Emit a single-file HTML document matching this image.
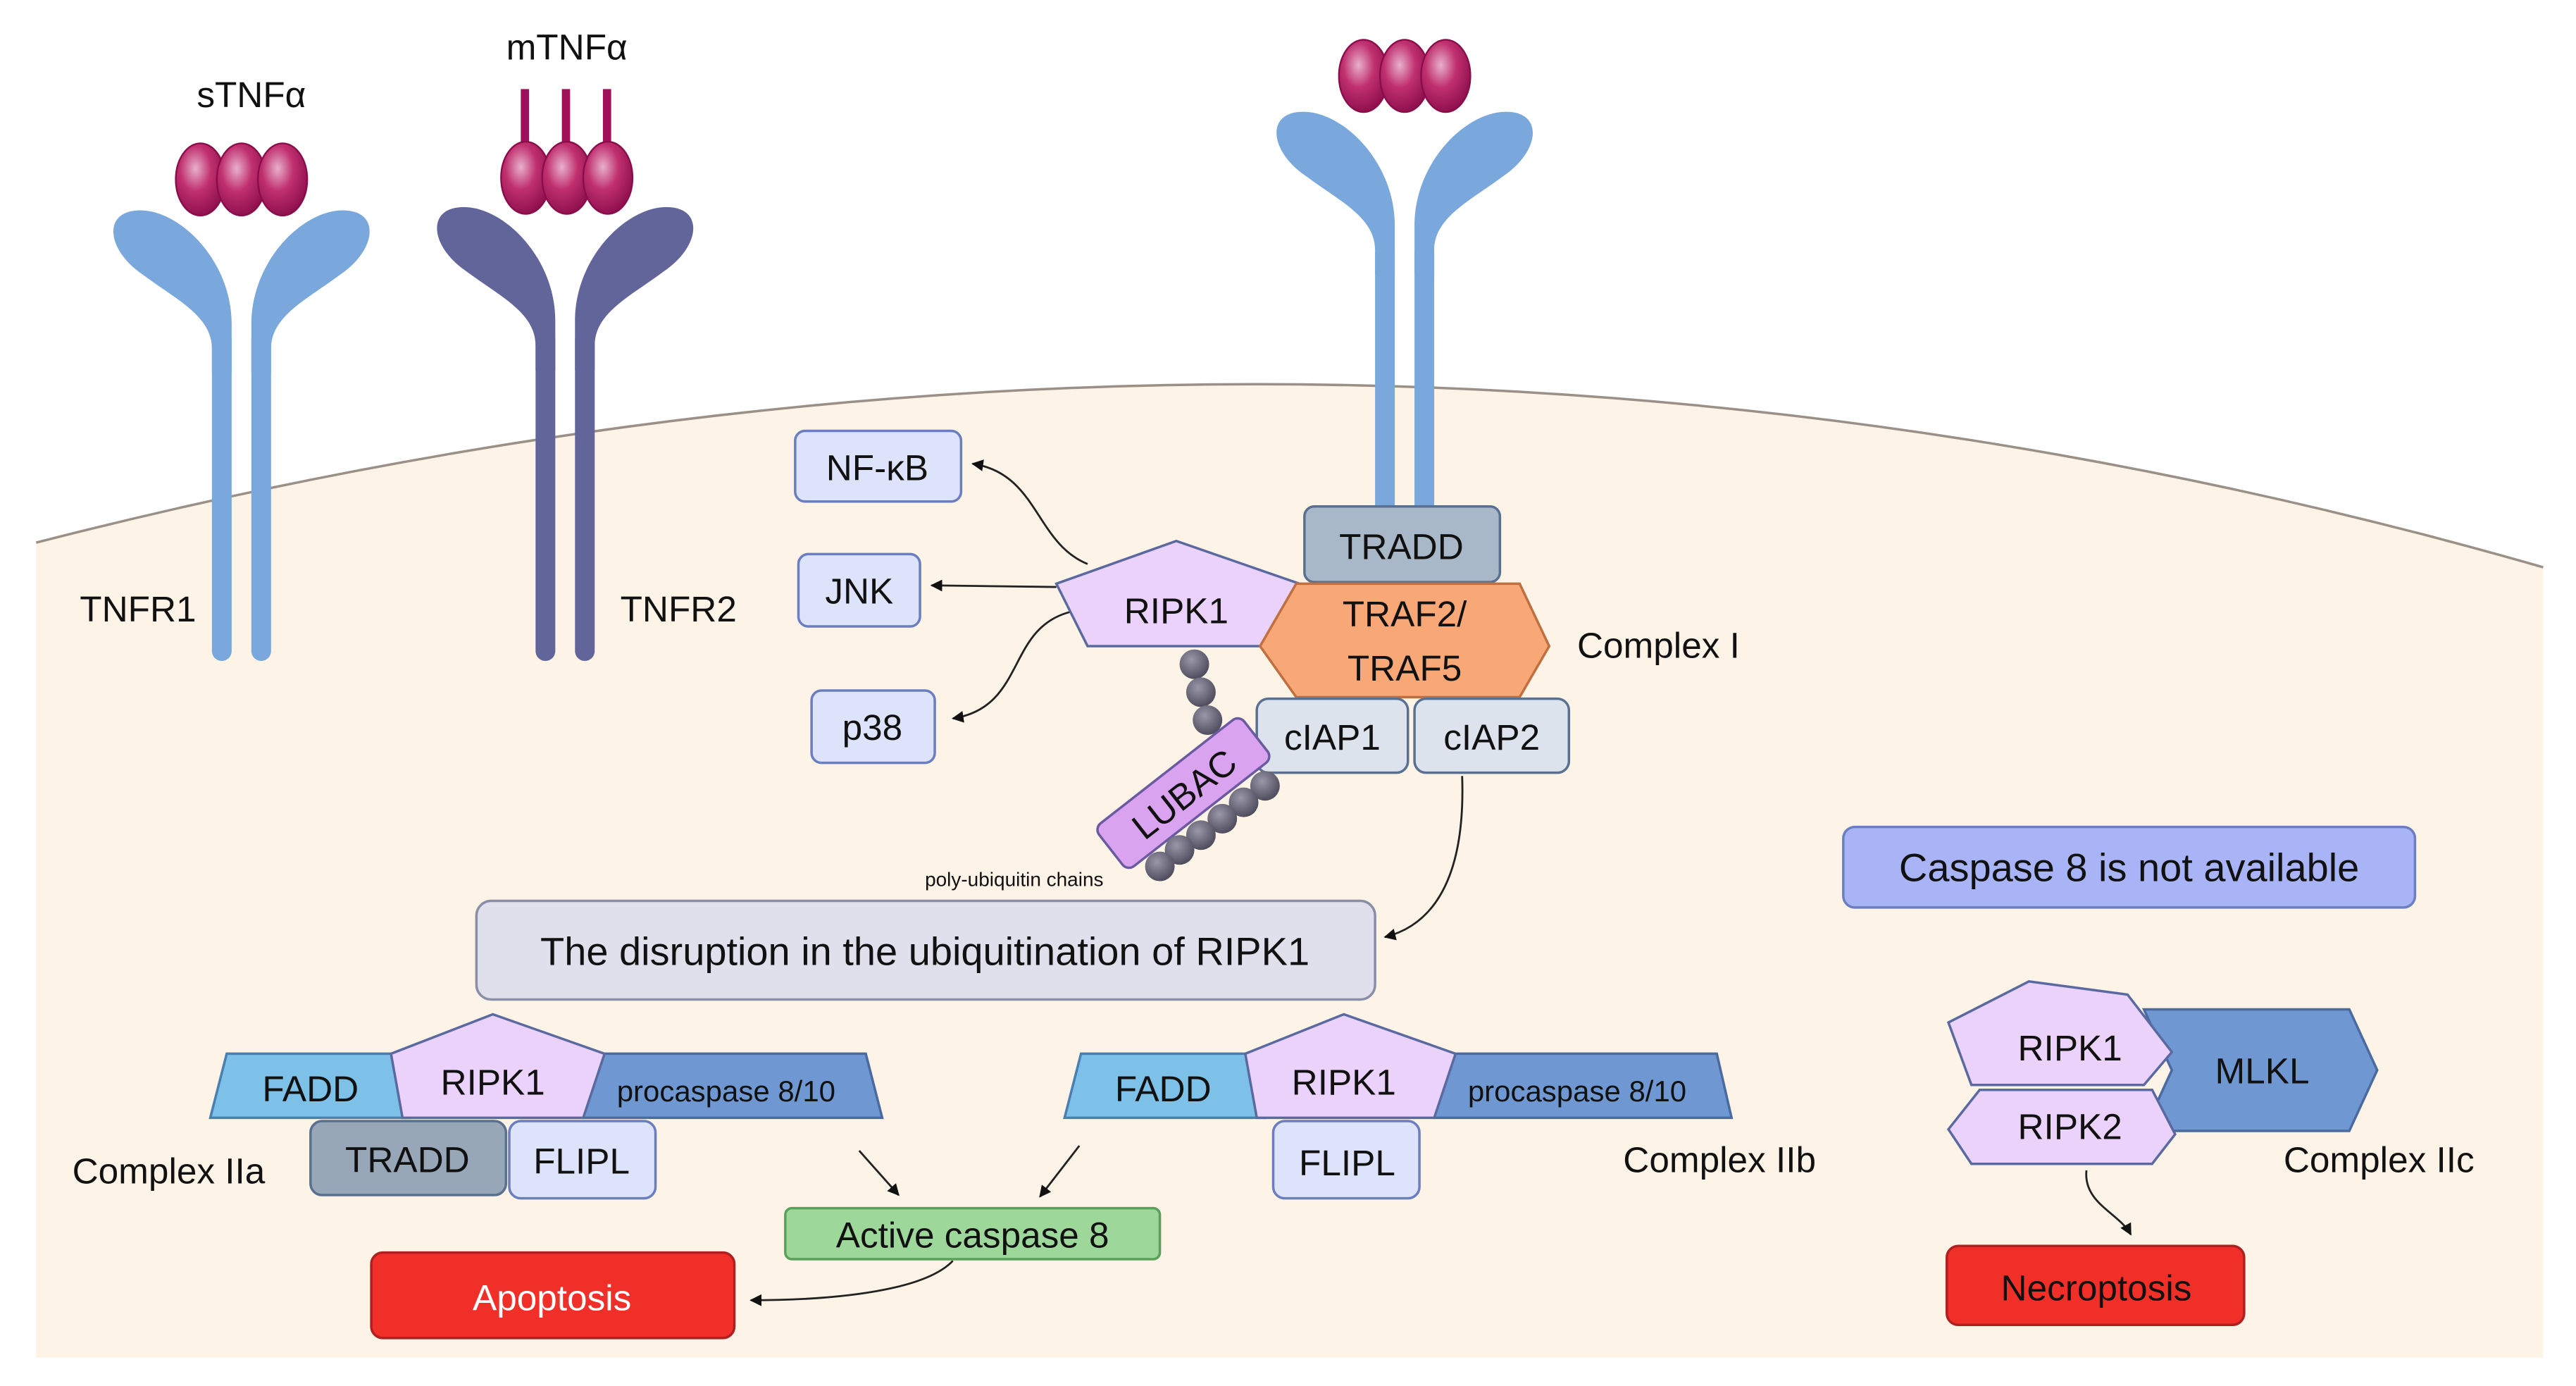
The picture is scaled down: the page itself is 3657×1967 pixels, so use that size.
<!DOCTYPE html>
<html><head><meta charset="utf-8"><style>
html,body{margin:0;padding:0;background:#fff}
svg{display:block}
text{font-family:"Liberation Sans",sans-serif;fill:#111}
</style></head><body>
<svg width="3657" height="1967" viewBox="0 0 1568 843" xmlns="http://www.w3.org/2000/svg">
<defs>
<marker id="ah" viewBox="0 0 10 10" refX="9" refY="5" markerWidth="6" markerHeight="6" orient="auto"><path d="M0,0 L10,5 L0,10 z" fill="#111"/></marker>
<radialGradient id="lig" cx="0.4" cy="0.35" r="0.7"><stop offset="0" stop-color="#e8b0cc"/><stop offset="0.45" stop-color="#c0306f"/><stop offset="1" stop-color="#8a0c4a"/></radialGradient>
<radialGradient id="bead" cx="0.4" cy="0.35" r="0.7"><stop offset="0" stop-color="#9a98a8"/><stop offset="1" stop-color="#4a4858"/></radialGradient>
<path id="arm" d="M-18,100 L-18,85 C-18,65 -40,55 -60,40 C-82,25 -84,3 -65,1 C-40,-2 -6,30 -6,70 L-6,100 Z"/>
</defs>
<rect width="1568" height="843" fill="#fff"/>
<path d="M22,330 Q800,130 1548,345 L1548,826 L22,826 Z" fill="#fdf3e6"/>
<path d="M22,330 Q800,130 1548,345" fill="none" stroke="#9a9088" stroke-width="1.5"/>

<!-- TNFR1 -->
<g fill="#7aa8dc">
<rect x="129" y="200" width="12" height="202" rx="6"/><rect x="153" y="200" width="12" height="202" rx="6"/>
<use href="#arm" transform="translate(147,127)"/><use href="#arm" transform="translate(147,127) scale(-1,1)"/>
</g>
<g fill="url(#lig)" stroke="#8a0c4a"><ellipse cx="122" cy="109" rx="15" ry="22"/><ellipse cx="147" cy="109" rx="15" ry="22"/><ellipse cx="172" cy="109" rx="15" ry="22"/></g>
<!-- TNFR2 -->
<g fill="#62659a">
<rect x="326" y="200" width="12" height="202" rx="6"/><rect x="350" y="200" width="12" height="202" rx="6"/>
<use href="#arm" transform="translate(344,125)"/><use href="#arm" transform="translate(344,125) scale(-1,1)"/>
</g>
<g fill="#a0105a"><rect x="317" y="54" width="5" height="40"/><rect x="342" y="54" width="5" height="40"/><rect x="367" y="54" width="5" height="40"/></g>
<g fill="url(#lig)" stroke="#8a0c4a"><ellipse cx="320" cy="108" rx="15" ry="22"/><ellipse cx="345" cy="108" rx="15" ry="22"/><ellipse cx="370" cy="108" rx="15" ry="22"/></g>
<!-- right receptor -->
<g fill="#7aa8dc">
<rect x="837" y="150" width="12" height="162" rx="4"/><rect x="861" y="150" width="12" height="162" rx="4"/>
<use href="#arm" transform="translate(855,67)"/><use href="#arm" transform="translate(855,67) scale(-1,1)"/>
</g>
<g fill="url(#lig)" stroke="#8a0c4a"><ellipse cx="830" cy="46" rx="15" ry="22"/><ellipse cx="855" cy="46" rx="15" ry="22"/><ellipse cx="880" cy="46" rx="15" ry="22"/></g>

<g font-size="22">
<text x="153" y="65" text-anchor="middle">sTNFα</text>
<text x="345" y="36" text-anchor="middle">mTNFα</text>
<text x="84" y="378" text-anchor="middle">TNFR1</text>
<text x="413" y="378" text-anchor="middle">TNFR2</text>
</g>

<!-- connectors -->
<g fill="none" stroke="#222" stroke-width="1.2" marker-end="url(#ah)">
<path d="M662,343 C630,330 632,288 592,282"/>
<path d="M643,357 L567,356"/>
<path d="M652,372 C612,382 625,430 580,437"/>
<path d="M890,472 C892,530 875,562 843,570"/>
<path d="M523,700 L547,727"/>
<path d="M657,697 L633,728"/>
<path d="M580,767 C562,786 505,791 457,791"/>
<path d="M1270,712 C1268,732 1290,738 1297,751"/>
</g>

<!-- Complex I -->
<g stroke-width="1.5" font-size="22">
<rect x="484" y="262" width="101" height="43" rx="6" fill="#dde3fb" stroke="#6b7fc0"/>
<text x="534" y="292" text-anchor="middle">NF-κB</text>
<rect x="486" y="337" width="74" height="44" rx="6" fill="#dde3fb" stroke="#6b7fc0"/>
<text x="523" y="367" text-anchor="middle">JNK</text>
<rect x="494" y="420" width="75" height="44" rx="6" fill="#dde3fb" stroke="#6b7fc0"/>
<text x="531" y="450" text-anchor="middle">p38</text>
<rect x="794" y="308" width="119" height="46" rx="6" fill="#a9b8c8" stroke="#5a7090"/>
<text x="853" y="340" text-anchor="middle">TRADD</text>
<polygon points="643,355 716,329 791,355 772,393 662,393" fill="#ebd2fa" stroke="#5a6aa0"/>
<text x="716" y="379" text-anchor="middle">RIPK1</text>
<polygon points="767,393 789,355 925,355 943,393 925,424 789,424" fill="#f8a876" stroke="#c07040"/>
<text x="855" y="381" text-anchor="middle">TRAF2/</text>
<text x="855" y="414" text-anchor="middle">TRAF5</text>
<rect x="765" y="425" width="92" height="45" rx="7" fill="#dce3ec" stroke="#5a7090"/>
<text x="811" y="456" text-anchor="middle">cIAP1</text>
<rect x="861" y="425" width="94" height="45" rx="7" fill="#dce3ec" stroke="#5a7090"/>
<text x="908" y="456" text-anchor="middle">cIAP2</text>
<text x="960" y="400">Complex I</text>
</g>
<!-- beads & LUBAC -->
<g fill="url(#bead)">
<circle cx="727" cy="404" r="9"/><circle cx="731" cy="421" r="9"/><circle cx="735" cy="438" r="9"/>
</g>
<g transform="rotate(-38 720 482)"><rect x="664" y="466" width="112" height="33" rx="5" fill="#d9a3f0" stroke="#6a5aa0" stroke-width="1.5"/><text x="720" y="491" text-anchor="middle" font-size="22">LUBAC</text></g>
<g fill="url(#bead)">
<circle cx="770" cy="478" r="9"/><circle cx="757" cy="488" r="9"/><circle cx="744" cy="498" r="9"/><circle cx="731" cy="508" r="9"/><circle cx="718" cy="517" r="9"/><circle cx="706" cy="527" r="9"/>
</g>
<text x="563" y="539" font-size="12">poly-ubiquitin chains</text>

<rect x="290" y="548" width="547" height="60" rx="9" fill="#dfe0ec" stroke="#8a8fa8" stroke-width="1.5"/>
<text x="563" y="587" text-anchor="middle" font-size="24">The disruption in the ubiquitination of RIPK1</text>
<rect x="1122" y="503" width="348" height="49" rx="7" fill="#a8b4f5" stroke="#6b7fc0" stroke-width="1.5"/>
<text x="1296" y="536" text-anchor="middle" font-size="24">Caspase 8 is not available</text>

<!-- Complex IIa -->
<g stroke-width="1.5" font-size="22">
<polygon points="138,641 250,641 250,680 128,680" fill="#7ec1e8" stroke="#4a80b0"/>
<text x="189" y="670" text-anchor="middle">FADD</text>
<polygon points="350,641 527,641 537,680 355,680" fill="#6f98d3" stroke="#4a6aa0"/>
<text x="442" y="670" text-anchor="middle" font-size="18">procaspase 8/10</text>
<polygon points="238,641 300,617 368,641 355,680 245,680" fill="#ebd2fa" stroke="#5a6aa0"/>
<text x="300" y="666" text-anchor="middle">RIPK1</text>
<rect x="189" y="682" width="119" height="45" rx="7" fill="#97a7b8" stroke="#5a7090"/>
<text x="248" y="713" text-anchor="middle">TRADD</text>
<rect x="310" y="682" width="89" height="47" rx="7" fill="#dde3fb" stroke="#6b7fc0"/>
<text x="354" y="714" text-anchor="middle">FLIPL</text>
<text x="44" y="720">Complex IIa</text>

<polygon points="658,641 770,641 770,680 648,680" fill="#7ec1e8" stroke="#4a80b0"/>
<text x="708" y="670" text-anchor="middle">FADD</text>
<polygon points="868,641 1045,641 1054,680 873,680" fill="#6f98d3" stroke="#4a6aa0"/>
<text x="960" y="670" text-anchor="middle" font-size="18">procaspase 8/10</text>
<polygon points="758,641 818,617 886,641 873,680 765,680" fill="#ebd2fa" stroke="#5a6aa0"/>
<text x="818" y="666" text-anchor="middle">RIPK1</text>
<rect x="775" y="682" width="89" height="47" rx="7" fill="#dde3fb" stroke="#6b7fc0"/>
<text x="820" y="715" text-anchor="middle">FLIPL</text>
<text x="988" y="713">Complex IIb</text>

<rect x="478" y="735" width="228" height="31" rx="4" fill="#9ed79a" stroke="#5aa05a"/>
<text x="592" y="759" text-anchor="middle">Active caspase 8</text>
<rect x="226" y="762" width="221" height="52" rx="7" fill="#f03028" stroke="#b02020"/>
<text x="336" y="797" text-anchor="middle" style="fill:#fff">Apoptosis</text>
<rect x="1185" y="758" width="181" height="48" rx="7" fill="#f03028" stroke="#b02020"/>
<text x="1276" y="791" text-anchor="middle" style="fill:#111">Necroptosis</text>

<!-- Complex IIc -->
<polygon points="1305,614 1430,614 1447,651 1430,688 1305,688 1322,651" fill="#6f98d3" stroke="#4a6aa0"/>
<text x="1377" y="659" text-anchor="middle">MLKL</text>
<polygon points="1186,622 1235,597 1295,605 1322,640 1305,660 1200,660" fill="#ebd2fa" stroke="#5a6aa0"/>
<text x="1260" y="645" text-anchor="middle">RIPK1</text>
<polygon points="1186,687 1205,663 1310,663 1324,690 1310,708 1200,708" fill="#ebd2fa" stroke="#5a6aa0"/>
<text x="1260" y="693" text-anchor="middle">RIPK2</text>
<text x="1390" y="713">Complex IIc</text>
</g>
</svg>
</body></html>
